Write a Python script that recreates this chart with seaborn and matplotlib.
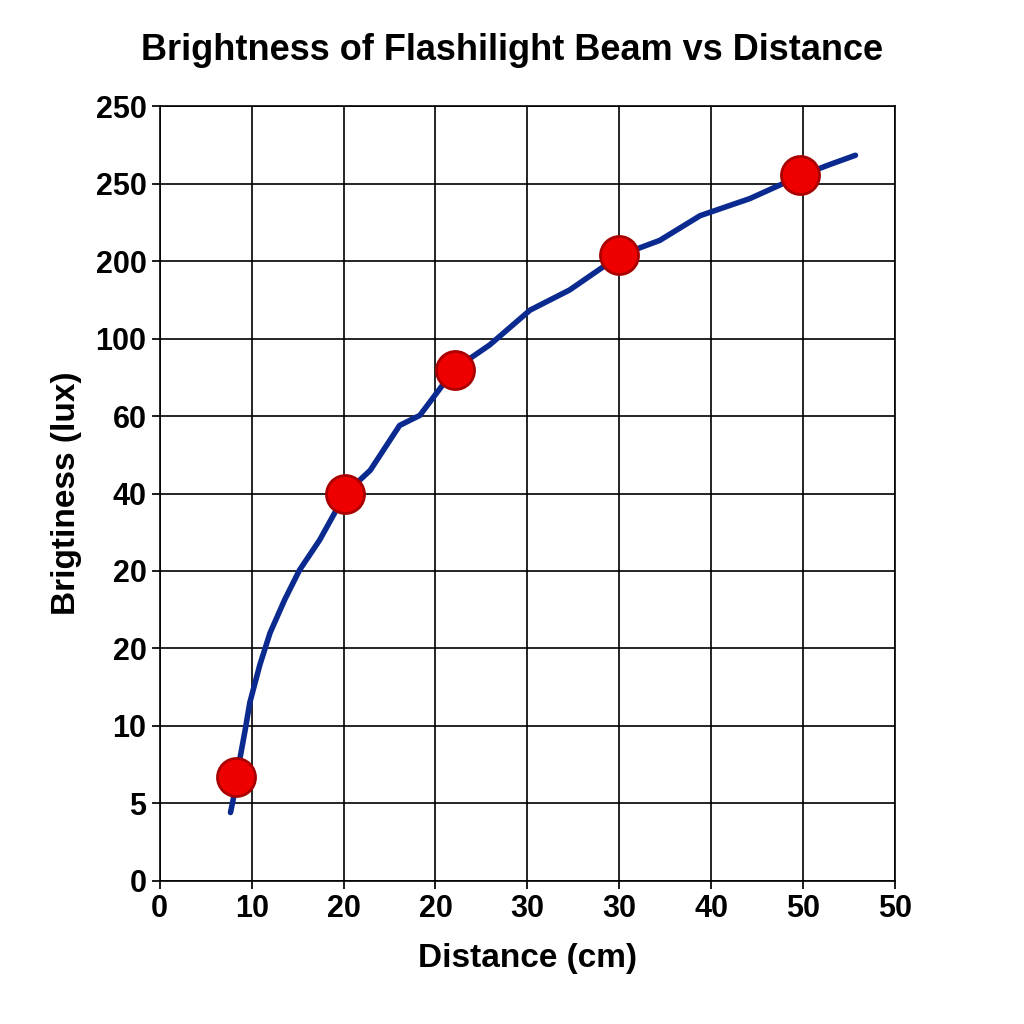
import matplotlib
matplotlib.use("Agg")
import matplotlib.pyplot as plt
import seaborn as sns

sns.set_theme(style="white")
plt.rcParams['font.family'] = ['Liberation Sans', 'DejaVu Sans']

x_ticklabels = ["0", "10", "20", "20", "30", "30", "40", "50", "50"]
y_ticklabels = ["0", "5", "10", "20", "20", "40", "60", "100", "200", "250", "250"]

pts_x = [0.83, 2.02, 3.21, 5.0, 6.97]
pts_y = [1.34, 5.0, 6.6, 8.08, 9.11]

curve_x = [0.77, 0.82, 0.87, 0.93, 0.98, 1.09, 1.20, 1.36, 1.52, 1.74, 2.02, 2.29, 2.61, 2.83,
           3.21, 3.59, 4.03, 4.46, 5.01, 5.44, 5.88, 6.42, 6.98, 7.29, 7.57]
curve_y = [0.88, 1.17, 1.56, 1.95, 2.30, 2.79, 3.20, 3.63, 4.01, 4.40, 5.0, 5.30, 5.88, 6.01,
           6.61, 6.92, 7.37, 7.63, 8.08, 8.27, 8.59, 8.81, 9.11, 9.25, 9.37]

fig = plt.figure(figsize=(10.24, 10.24), dpi=100)
ax = fig.add_axes([0.156, 0.14, 0.718, 0.756])

sns.lineplot(x=curve_x, y=curve_y, ax=ax, color="#0a2a8f", lw=4, sort=False, zorder=3)
sns.scatterplot(x=pts_x, y=pts_y, ax=ax, s=750, color="#ee0000", edgecolor="#aa0000", linewidth=2, zorder=4)

ax.set_xlim(0, 8)
ax.set_ylim(0, 10)
ax.set_xticks(range(len(x_ticklabels)))
ax.set_xticklabels(x_ticklabels)
ax.set_yticks(range(len(y_ticklabels)))
ax.set_yticklabels(y_ticklabels)
ax.grid(True, color="black", lw=1.2)
for s in ax.spines.values():
    s.set_color("black")
    s.set_linewidth(1.2)
ax.tick_params(axis='both', labelsize=22, length=6, color="black", labelcolor="black",
               direction="out", bottom=True, left=True)
for t in ax.get_xticklabels() + ax.get_yticklabels():
    t.set_fontweight("bold")
ax.set_xlabel("Distance (cm)", fontsize=24, fontweight="bold", labelpad=14, color="black")
ax.set_ylabel("Brigtiness (lux)", fontsize=24, fontweight="bold", labelpad=10, color="black")
fig.suptitle("Brightness of Flashilight Beam vs Distance", fontsize=26, fontweight="bold",
             y=0.968, color="black")

fig.savefig("out.png", dpi=100, facecolor="white")
